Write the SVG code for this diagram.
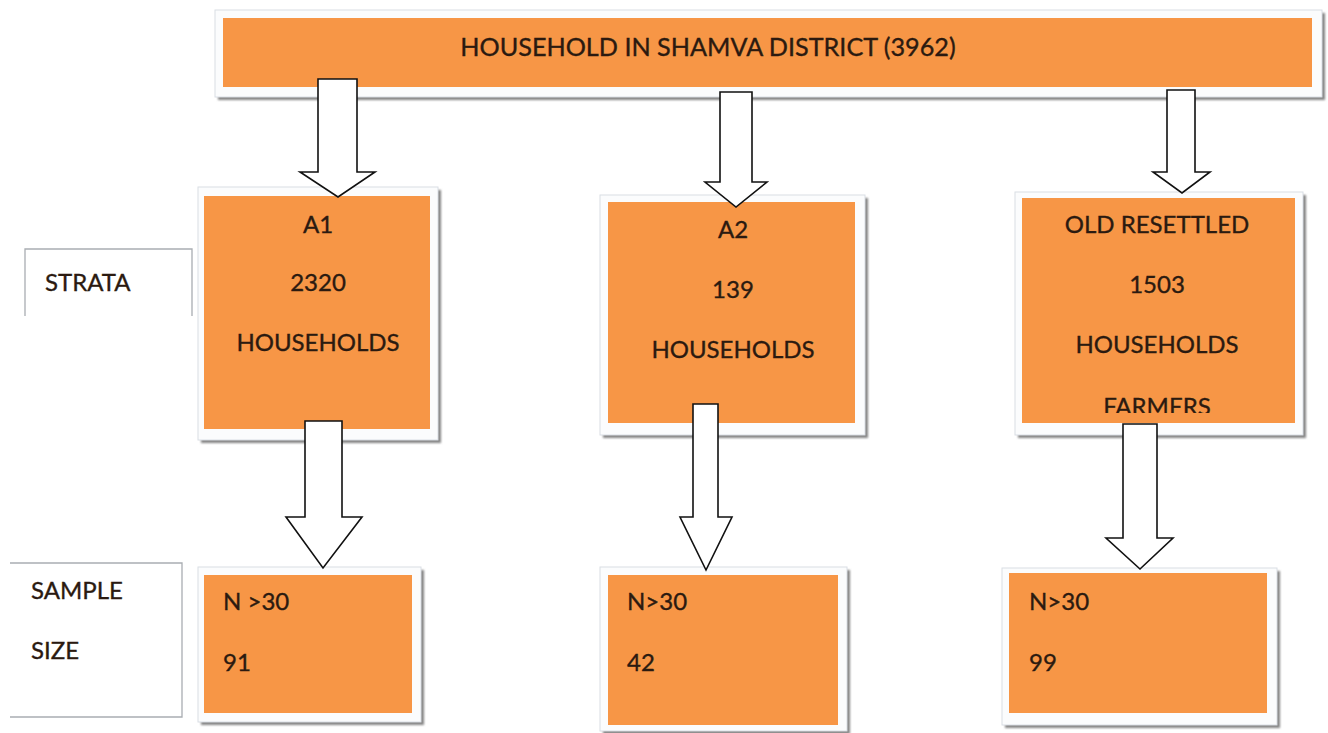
<svg xmlns="http://www.w3.org/2000/svg" width="1328" height="733" viewBox="0 0 1328 733">
  <style>
    .frame { fill: #fbfcfd; stroke: #d9dee4; stroke-width: 1; }
    .shadow { fill: #858585; filter: url(#soft); }
    .fill { fill: #f79646; }
    .t { font-family: Lato, "Liberation Sans", sans-serif; font-size: 24px; fill: #2b1a10; stroke: #2b1a10; stroke-width: 0.35; }
    .title { font-size: 25.2px; }
    .c { text-anchor: middle; }
    .label-line { fill: none; stroke: #a9adb2; stroke-width: 1.3; }
    .arrow { fill: #ffffff; stroke: #111111; stroke-width: 1.6; stroke-linejoin: miter; }
  </style>
  <defs>
    <filter id="soft" x="-5%" y="-5%" width="110%" height="110%">
      <feGaussianBlur stdDeviation="1"/>
    </filter>
    <clipPath id="clipOR">
      <rect x="1022" y="198" width="273" height="215"/>
    </clipPath>
  </defs>

  <rect width="1328" height="733" fill="#ffffff"/>

  <!-- side labels -->
  <g id="label-strata">
    <polyline class="label-line" points="25,316 25,249 192,249 192,316"/>
    <text class="t" x="45" y="291">STRATA</text>
  </g>
  <g id="label-sample-size">
    <polyline class="label-line" points="10,563 182,563 182,717 10,717"/>
    <text class="t" x="31" y="599">SAMPLE</text>
    <text class="t" x="31" y="659">SIZE</text>
  </g>

  <!-- population -->
  <g id="node-district">
    <rect class="shadow" x="218" y="13" width="1107" height="87"/>
    <rect class="frame" x="215" y="10" width="1107" height="87"/>
    <rect class="fill" x="223" y="18" width="1089" height="69"/>
    <text class="t title c" x="708" y="56">HOUSEHOLD IN SHAMVA DISTRICT (3962)</text>
  </g>

  <!-- strata -->
  <g id="node-a1">
    <rect class="shadow" x="201" y="190" width="240" height="253"/>
    <rect class="frame" x="198" y="187" width="240" height="253"/>
    <rect class="fill" x="204" y="196" width="226" height="233"/>
    <text class="t c" x="318" y="233">A1</text>
    <text class="t c" x="318" y="291">2320</text>
    <text class="t c" x="318" y="351">HOUSEHOLDS</text>
  </g>
  <g id="node-a2">
    <rect class="shadow" x="603" y="198" width="265" height="240"/>
    <rect class="frame" x="600" y="195" width="265" height="240"/>
    <rect class="fill" x="608" y="202" width="247" height="221"/>
    <text class="t c" x="733" y="238">A2</text>
    <text class="t c" x="733" y="298">139</text>
    <text class="t c" x="733" y="358">HOUSEHOLDS</text>
  </g>
  <g id="node-old-resettled">
    <rect class="shadow" x="1018" y="195" width="288" height="243"/>
    <rect class="frame" x="1015" y="192" width="288" height="243"/>
    <rect class="fill" x="1022" y="198" width="273" height="225"/>
    <g clip-path="url(#clipOR)">
      <text class="t c" x="1157" y="233">OLD RESETTLED</text>
      <text class="t c" x="1157" y="293">1503</text>
      <text class="t c" x="1157" y="353">HOUSEHOLDS</text>
      <text class="t c" x="1157" y="415">FARMERS</text>
    </g>
  </g>

  <!-- sample sizes -->
  <g id="node-sample-a1">
    <rect class="shadow" x="201" y="570" width="223" height="155"/>
    <rect class="frame" x="198" y="567" width="223" height="155"/>
    <rect class="fill" x="204" y="575" width="208" height="138"/>
    <text class="t" x="223" y="610">N &gt;30</text>
    <text class="t" x="223" y="671">91</text>
  </g>
  <g id="node-sample-a2">
    <rect class="shadow" x="603" y="570" width="247" height="164"/>
    <rect class="frame" x="600" y="567" width="247" height="164"/>
    <rect class="fill" x="608" y="575" width="230" height="150"/>
    <text class="t" x="627" y="610">N&gt;30</text>
    <text class="t" x="627" y="671">42</text>
  </g>
  <g id="node-sample-old-resettled">
    <rect class="shadow" x="1005" y="571" width="275" height="157"/>
    <rect class="frame" x="1002" y="568" width="275" height="157"/>
    <rect class="fill" x="1009" y="573" width="258" height="140"/>
    <text class="t" x="1029" y="610">N&gt;30</text>
    <text class="t" x="1029" y="671">99</text>
  </g>

  <!-- block arrows -->
  <g id="connectors">
    <polygon class="arrow" points="318,79 357,79 357,172 375,172 338,197 300,172 318,172"/>
    <polygon class="arrow" points="720,92 752,92 752,182 767,182 736,207 705,182 720,182"/>
    <polygon class="arrow" points="1167,90 1195,90 1195,172 1210,172 1182,193 1153,172 1167,172"/>
    <polygon class="arrow" points="305,421 342,421 342,517 362,517 323,568 286,517 305,517"/>
    <polygon class="arrow" points="693,404 718,404 718,517 732,517 706,570 680,517 693,517"/>
    <polygon class="arrow" points="1123,424 1157,424 1157,538 1173,538 1140,569 1106,538 1123,538"/>
  </g>
</svg>
